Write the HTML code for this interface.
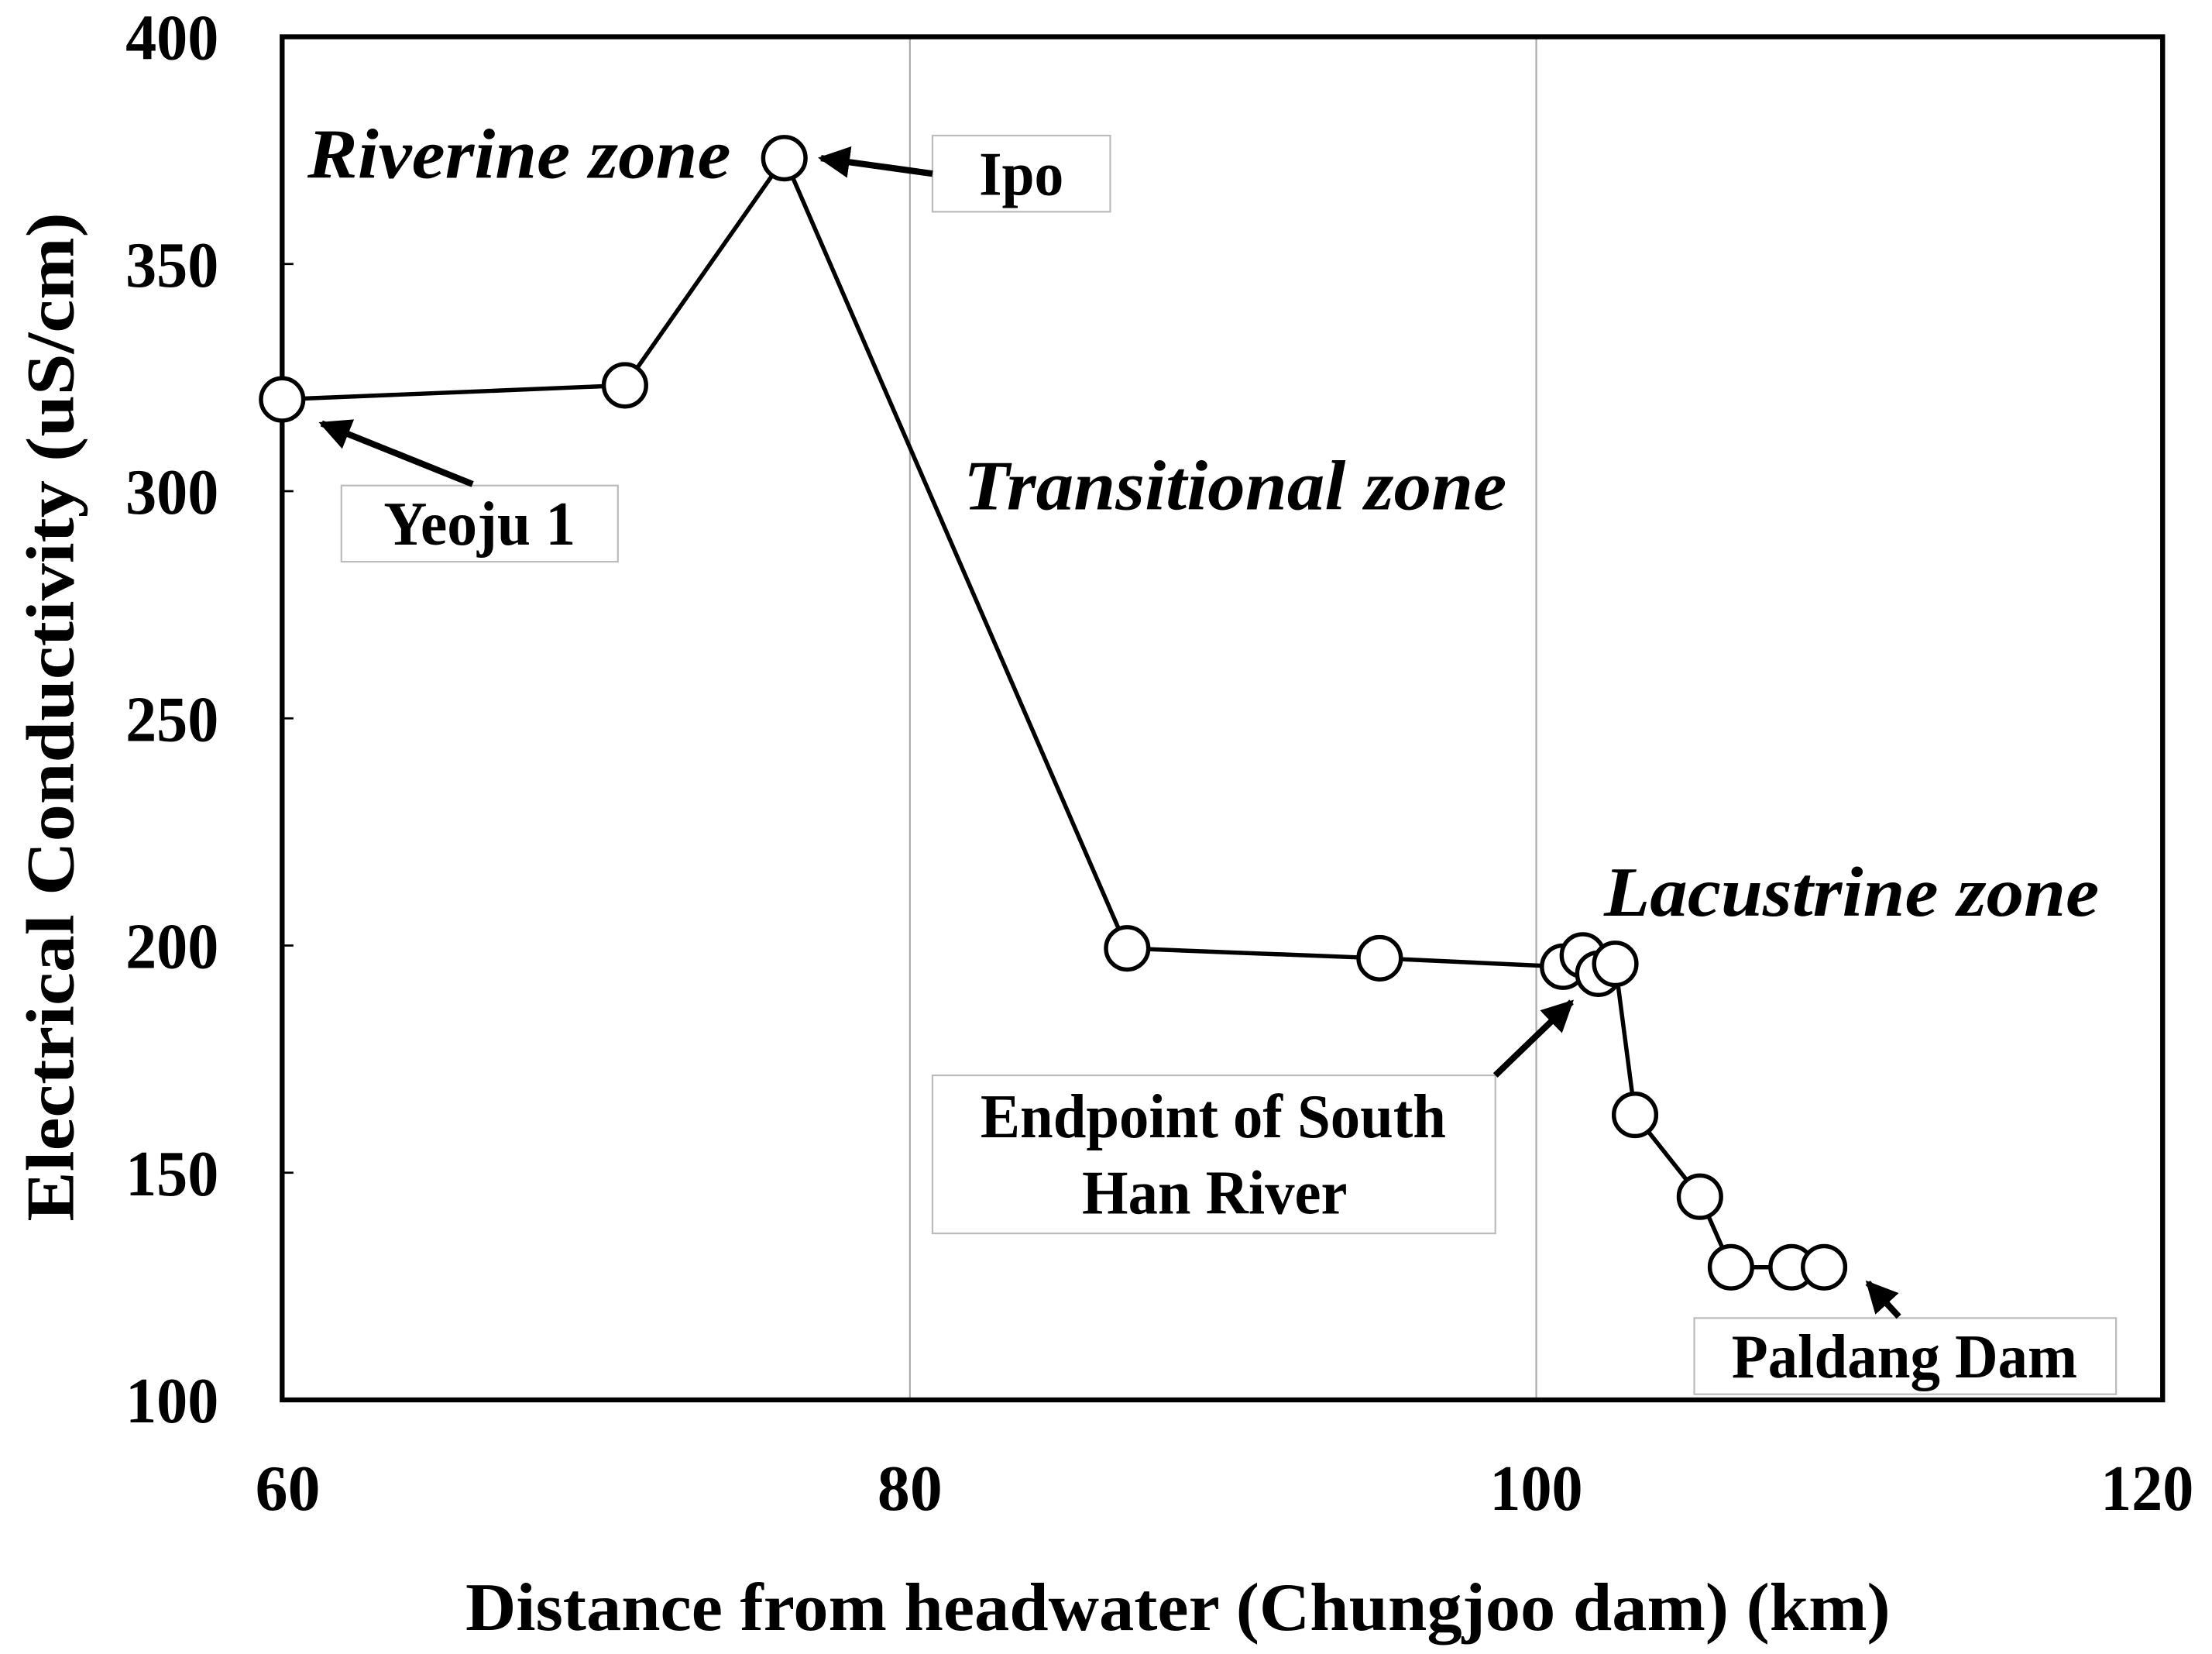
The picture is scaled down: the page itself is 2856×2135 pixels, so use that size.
<!DOCTYPE html>
<html><head><meta charset="utf-8"><style>html,body{margin:0;padding:0;background:#fff}svg{display:block}</style></head>
<body>
<svg xmlns="http://www.w3.org/2000/svg" width="2856" height="2135" viewBox="0 0 1568 1172" font-family="'Liberation Serif',serif" font-weight="bold">
<rect width="1568" height="1172" fill="#fff"/>
<line x1="645" y1="26" x2="645" y2="992" stroke="#aaa" stroke-width="1.2"/>
<line x1="1089" y1="26" x2="1089" y2="992" stroke="#aaa" stroke-width="1.2"/>
<g stroke="#000" stroke-width="1.5">
<line x1="200" y1="187" x2="208" y2="187"/><line x1="200" y1="348" x2="208" y2="348"/><line x1="200" y1="509" x2="208" y2="509"/><line x1="200" y1="670" x2="208" y2="670"/><line x1="200" y1="831" x2="208" y2="831"/>
</g>
<rect x="200" y="26" width="1333" height="966" fill="none" stroke="#000" stroke-width="3.5"/>
<g font-size="46" text-anchor="end" lengthAdjust="spacingAndGlyphs">
<text x="155" y="42" textLength="66" lengthAdjust="spacingAndGlyphs">400</text><text x="155" y="203" textLength="66" lengthAdjust="spacingAndGlyphs">350</text><text x="155" y="364" textLength="66" lengthAdjust="spacingAndGlyphs">300</text><text x="155" y="525" textLength="66" lengthAdjust="spacingAndGlyphs">250</text><text x="155" y="686" textLength="66" lengthAdjust="spacingAndGlyphs">200</text><text x="155" y="847" textLength="66" lengthAdjust="spacingAndGlyphs">150</text><text x="155" y="1008" textLength="66" lengthAdjust="spacingAndGlyphs">100</text>
</g>
<g font-size="46" text-anchor="middle">
<text x="204" y="1070" textLength="46" lengthAdjust="spacingAndGlyphs">60</text><text x="645" y="1070" textLength="46" lengthAdjust="spacingAndGlyphs">80</text><text x="1089" y="1070" textLength="66" lengthAdjust="spacingAndGlyphs">100</text><text x="1522" y="1070" textLength="66" lengthAdjust="spacingAndGlyphs">120</text>
</g>
<text x="835" y="1155" font-size="48" text-anchor="middle" textLength="1010" lengthAdjust="spacingAndGlyphs">Distance from headwater (Chungjoo dam) (km)</text>
<text transform="translate(52,508) rotate(-90)" font-size="48" text-anchor="middle" textLength="715" lengthAdjust="spacingAndGlyphs">Electrical Conductivity (uS/cm)</text>
<polyline fill="none" stroke="#000" stroke-width="3" points="200,283 443,273 556,112 799,672 978,679 1108,685 1122,677 1133,690 1145,683 1159,790 1205,848 1227,898 1270,898 1293,898"/>
<g fill="#fff" stroke="#000" stroke-width="3">
<circle cx="200" cy="283" r="15"/><circle cx="443" cy="273" r="15"/><circle cx="556" cy="112" r="15"/><circle cx="799" cy="672" r="15"/><circle cx="978" cy="679" r="15"/><circle cx="1108" cy="685" r="15"/><circle cx="1122" cy="677" r="15"/><circle cx="1133" cy="690" r="15"/><circle cx="1145" cy="683" r="15"/><circle cx="1159" cy="790" r="15"/><circle cx="1205" cy="848" r="15"/><circle cx="1227" cy="898" r="15"/><circle cx="1270" cy="898" r="15"/><circle cx="1293" cy="898" r="15"/>
</g>
<g font-style="italic" font-size="50">
<text x="218" y="126" textLength="300" lengthAdjust="spacingAndGlyphs">Riverine zone</text>
<text x="683" y="361" textLength="385" lengthAdjust="spacingAndGlyphs">Transitional zone</text>
<text x="1137" y="649" textLength="351" lengthAdjust="spacingAndGlyphs">Lacustrine zone</text>
</g>
<g fill="#fff" stroke="#bbb" stroke-width="1.2">
<rect x="661" y="96" width="126" height="54"/><rect x="242" y="344" width="196" height="54"/><rect x="661" y="762" width="399" height="112"/><rect x="1201" y="934" width="299" height="54"/>
</g>
<g font-size="44" text-anchor="middle">
<text x="724" y="138" textLength="60" lengthAdjust="spacingAndGlyphs">Ipo</text>
<text x="340" y="386" textLength="136" lengthAdjust="spacingAndGlyphs">Yeoju 1</text>
<text x="860" y="806" textLength="330" lengthAdjust="spacingAndGlyphs">Endpoint of South</text>
<text x="861" y="860" textLength="188" lengthAdjust="spacingAndGlyphs">Han River</text>
<text x="1350" y="976" textLength="245" lengthAdjust="spacingAndGlyphs">Paldang Dam</text>
</g>
<defs><marker id="a" viewBox="0 0 10 10" refX="9" refY="5" markerWidth="5" markerHeight="5" orient="auto" markerUnits="strokeWidth"><path d="M0,0L10,5L0,10z" fill="#000"/></marker></defs>
<g stroke="#000" stroke-width="4.5" marker-end="url(#a)">
<line x1="335" y1="343" x2="228" y2="300"/>
<line x1="661" y1="123" x2="582" y2="112"/>
<line x1="1060" y1="762" x2="1114" y2="710"/>
<line x1="1346" y1="933" x2="1324" y2="909"/>
</g>
</svg>
</body></html>
